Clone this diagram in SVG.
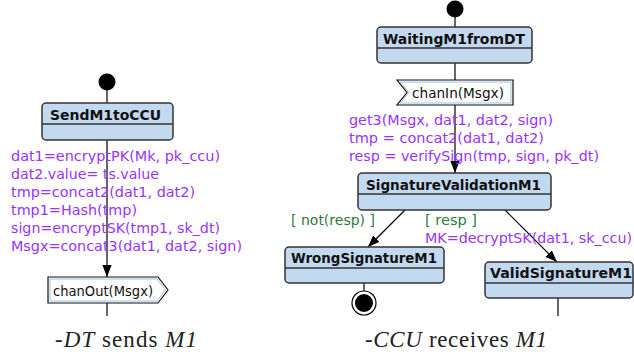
<svg xmlns="http://www.w3.org/2000/svg" width="634" height="358" viewBox="0 0 634 358">
<defs>
<marker id="arr" markerUnits="userSpaceOnUse" markerWidth="12" markerHeight="13" viewBox="0 0 13 12" refX="13" refY="6" orient="auto">
<path d="M0,1 L13,6 L0,11 Z" fill="#000"/>
</marker>
</defs>
<style>
.box{fill:#c3d9f0;stroke:#333;stroke-width:1.5}
.div{stroke:#333;stroke-width:1.5}
.title{font-family:"DejaVu Sans",sans-serif;font-weight:bold;font-size:14px;fill:#111}
.sig{fill:#fff;stroke:#111;stroke-width:1.2}
.sigin{fill:none;stroke:#9cc3e6;stroke-width:1}
.lbl{font-family:"DejaVu Sans",sans-serif;font-size:14px;fill:#111}
.act{font-family:"DejaVu Sans",sans-serif;font-size:14.5px;fill:#9933ff}
.grd{font-family:"DejaVu Sans",sans-serif;font-size:14.5px;fill:#2f7a3a}
.edge{stroke:#000;stroke-width:1.2;fill:none}
.cap{font-family:"Liberation Serif",serif;font-size:23px;fill:#222}
</style>
<g id="connectors">
<line class="edge" x1="107" y1="82" x2="107" y2="103"/>
<line class="edge" x1="107" y1="140" x2="107" y2="277" marker-end="url(#arr)"/>
<line class="edge" x1="107" y1="303" x2="107" y2="316"/>
<line class="edge" x1="455" y1="9" x2="455" y2="27"/>
<line class="edge" x1="455" y1="63" x2="455" y2="80"/>
<line class="edge" x1="455" y1="105" x2="455" y2="173" marker-end="url(#arr)"/>
<line class="edge" x1="405" y1="210" x2="368" y2="247" marker-end="url(#arr)"/>
<line class="edge" x1="505" y1="210" x2="557" y2="262" marker-end="url(#arr)"/>
<line class="edge" x1="364" y1="283" x2="364" y2="291"/>
<line class="edge" x1="558" y1="298" x2="558" y2="316"/>
</g>
<g id="start_dt"><circle cx="107" cy="82" r="8.5" fill="#000"/></g>
<g id="SendM1toCCU">
<rect class="box" x="42" y="103" width="131" height="37" rx="4"/>
<line class="div" x1="42" y1="124" x2="173" y2="124"/>
<text class="title" x="50" y="120" textLength="111" lengthAdjust="spacingAndGlyphs">SendM1toCCU</text>
</g>
<g id="actions_dt">
<text class="act" x="11" y="161" textLength="209" lengthAdjust="spacingAndGlyphs">dat1=encryptPK(Mk, pk_ccu)</text>
<text class="act" x="11" y="179" textLength="148" lengthAdjust="spacingAndGlyphs">dat2.value= ts.value</text>
<text class="act" x="11" y="197" textLength="184" lengthAdjust="spacingAndGlyphs">tmp=concat2(dat1, dat2)</text>
<text class="act" x="11" y="215" textLength="126" lengthAdjust="spacingAndGlyphs">tmp1=Hash(tmp)</text>
<text class="act" x="11" y="233" textLength="209" lengthAdjust="spacingAndGlyphs">sign=encryptSK(tmp1, sk_dt)</text>
<text class="act" x="11" y="251" textLength="231" lengthAdjust="spacingAndGlyphs">Msgx=concat3(dat1, dat2, sign)</text>
</g>
<g id="chanOut">
<polygon class="sig" points="48,277 158,277 168,290 158,303 48,303"/>
<polygon class="sigin" points="50,279 157,279 165.5,290 157,301 50,301"/>
<text class="lbl" x="53" y="296" textLength="100" lengthAdjust="spacingAndGlyphs">chanOut(Msgx)</text>
</g>
<g id="start_ccu"><circle cx="455" cy="9" r="8.5" fill="#000"/></g>
<g id="WaitingM1fromDT">
<rect class="box" x="377" y="27" width="155" height="36" rx="4"/>
<line class="div" x1="377" y1="48" x2="532" y2="48"/>
<text class="title" x="383" y="44" textLength="142" lengthAdjust="spacingAndGlyphs">WaitingM1fromDT</text>
</g>
<g id="chanIn">
<polygon class="sig" points="397,80 513,80 513,105 397,105 407,92.5"/>
<polygon class="sigin" points="400,82 511,82 511,103 400,103 409,92.5"/>
<text class="lbl" x="412" y="98" textLength="92" lengthAdjust="spacingAndGlyphs">chanIn(Msgx)</text>
</g>
<g id="actions_ccu">
<text class="act" x="349" y="125" textLength="204" lengthAdjust="spacingAndGlyphs">get3(Msgx, dat1, dat2, sign)</text>
<text class="act" x="349" y="143" textLength="195" lengthAdjust="spacingAndGlyphs">tmp = concat2(dat1, dat2)</text>
<text class="act" x="349" y="161" textLength="250" lengthAdjust="spacingAndGlyphs">resp = verifySign(tmp, sign, pk_dt)</text>
</g>
<g id="SignatureValidationM1">
<rect class="box" x="358" y="173" width="193" height="37" rx="4"/>
<line class="div" x1="358" y1="194" x2="551" y2="194"/>
<text class="title" x="366" y="190" textLength="175" lengthAdjust="spacingAndGlyphs">SignatureValidationM1</text>
</g>
<g id="guards">
<text class="grd" x="291" y="225" textLength="84" lengthAdjust="spacingAndGlyphs">[ not(resp) ]</text>
<text class="grd" x="425" y="225" textLength="52" lengthAdjust="spacingAndGlyphs">[ resp ]</text>
<text class="act" x="425" y="243" textLength="207" lengthAdjust="spacingAndGlyphs">MK=decryptSK(dat1, sk_ccu)</text>
</g>
<g id="WrongSignatureM1">
<rect class="box" x="285" y="247" width="159" height="36" rx="4"/>
<line class="div" x1="285" y1="268" x2="444" y2="268"/>
<text class="title" x="291" y="263" textLength="146" lengthAdjust="spacingAndGlyphs">WrongSignatureM1</text>
</g>
<g id="end_wrong">
<circle cx="364" cy="303" r="12" fill="#fff" stroke="#000" stroke-width="1.2"/>
<circle cx="364" cy="303" r="9" fill="#000"/>
</g>
<g id="ValidSignatureM1">
<rect class="box" x="485" y="262" width="148" height="36" rx="4"/>
<line class="div" x1="485" y1="283" x2="633" y2="283"/>
<text class="title" x="490" y="278" textLength="142" lengthAdjust="spacingAndGlyphs">ValidSignatureM1</text>
</g>
<g id="captions">
<text class="cap" x="55" y="347" textLength="142" lengthAdjust="spacing">-<tspan font-style="italic">DT</tspan> sends <tspan font-style="italic">M1</tspan></text>
<text class="cap" x="365" y="347" textLength="182" lengthAdjust="spacing"><tspan font-style="italic">-CCU</tspan> receives <tspan font-style="italic">M1</tspan></text>
</g>
</svg>
